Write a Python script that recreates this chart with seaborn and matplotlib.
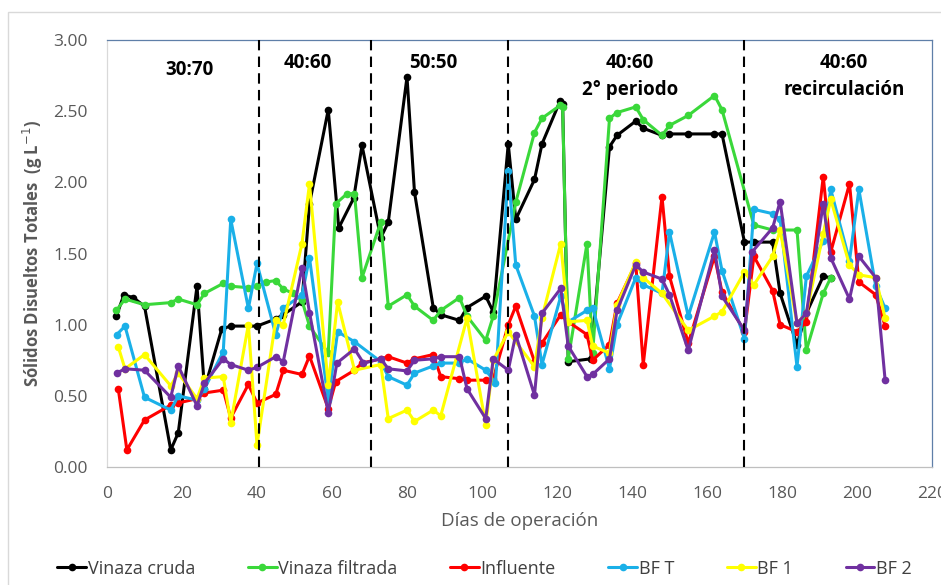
import matplotlib
matplotlib.use("Agg")
import matplotlib.pyplot as plt
from matplotlib.patches import Rectangle
import seaborn as sns

# días de muestreo y sólidos disueltos totales (g/L) por serie
cruda_dias = [2.5, 4.5, 7, 10, 17, 19, 24, 26, 30.6, 33, 40, 45, 47, 52, 54, 59, 61.8, 65.8, 68,
              73, 75, 80, 82, 87, 89, 94, 96, 101, 103, 107, 109, 114, 116, 120.8, 121.5, 123, 129,
              134, 136, 141, 143, 148, 150, 155, 162, 164, 170, 172.5, 177.5, 179.5, 184, 186.5, 191, 193]
cruda_sdt = [1.06, 1.21, 1.19, 1.13, 0.12, 0.24, 1.27, 0.55, 0.97, 0.99, 0.99, 1.04, 1.07, 1.16, 1.85, 2.51, 1.68, 1.89, 2.26,
             1.61, 1.72, 2.74, 1.93, 1.12, 1.07, 1.03, 1.12, 1.20, 1.09, 2.27, 1.74, 2.02, 2.27, 2.57, 2.55, 0.74, 0.76,
             2.25, 2.33, 2.43, 2.38, 2.33, 2.34, 2.34, 2.34, 2.34, 1.58, 1.58, 1.58, 1.22, 0.86, 1.08, 1.34, 1.33]

filtrada_dias = [2.5, 4.8, 10, 17, 19, 24, 26, 31, 33, 37.7, 40, 42.5, 45, 47, 49.7, 52, 54, 59, 61, 64, 66, 68,
                 73, 75, 80, 82, 87, 89, 94, 96, 101, 103, 109, 114, 116, 120.8, 121.5, 123, 128, 129.5,
                 134, 136, 141, 143, 148, 150, 155, 162, 164, 172.5, 177.5, 184, 186.5, 191, 193]
filtrada_sdt = [1.10, 1.18, 1.14, 1.155, 1.18, 1.14, 1.22, 1.29, 1.27, 1.26, 1.27, 1.30, 1.31, 1.25, 1.22, 1.17, 0.99, 0.80, 1.85, 1.92, 1.92, 1.33,
                1.72, 1.13, 1.21, 1.13, 1.03, 1.10, 1.19, 1.06, 0.89, 1.06, 1.86, 2.35, 2.45, 2.54, 2.53, 0.76, 1.57, 0.80,
                2.45, 2.49, 2.53, 2.44, 2.33, 2.40, 2.47, 2.61, 2.51, 1.70, 1.665, 1.665, 0.82, 1.22, 1.33]

influente_dias = [3, 5.3, 10, 17, 19, 24, 26, 31, 33, 37.7, 40, 45, 47, 52, 54, 59, 61, 66, 68, 73, 75, 80, 82, 87, 89,
                  94, 96, 101, 103, 107, 109, 114, 116, 121, 123, 128, 129.5, 134, 136, 141, 143, 148, 150, 155,
                  162, 164, 170, 172.5, 177.5, 179.5, 184, 186.5, 191, 193, 198, 200.5, 205, 207.5]
influente_sdt = [0.55, 0.12, 0.33, 0.435, 0.45, 0.48, 0.52, 0.54, 0.345, 0.58, 0.45, 0.51, 0.68, 0.65, 0.78, 0.41, 0.60, 0.68, 0.73, 0.76, 0.775, 0.73, 0.76, 0.79, 0.635,
                 0.62, 0.61, 0.61, 0.62, 1.0, 1.13, 0.74, 0.87, 1.07, 1.02, 0.93, 0.75, 0.86, 1.15, 1.43, 0.72, 1.90, 1.34, 0.87,
                 1.48, 1.23, 0.95, 1.48, 1.24, 1.0, 0.95, 1.02, 2.04, 1.51, 1.99, 1.30, 1.21, 0.99]

bft_dias = [2.6, 4.8, 10, 17, 19, 24, 26, 31, 33, 37.7, 40, 45, 47, 52, 54, 59, 61.5, 66, 73, 75, 80, 82, 87, 89,
            94, 96, 101, 103.6, 107, 109, 114, 116, 121, 123, 128, 129.5, 134, 136, 141, 143, 148, 150, 155,
            162, 164, 170, 172.5, 177.5, 179.5, 184, 186.5, 191, 193, 198, 200.5, 205, 207.5]
bft_sdt = [0.93, 0.99, 0.49, 0.40, 0.50, 0.47, 0.55, 0.81, 1.74, 1.115, 1.43, 0.93, 1.115, 1.21, 1.47, 0.47, 0.95, 0.88, 0.74, 0.635, 0.575, 0.66, 0.71, 0.73,
           0.73, 0.76, 0.68, 0.59, 2.08, 1.42, 1.06, 0.72, 1.20, 1.02, 1.10, 1.12, 0.69, 1.00, 1.33, 1.28, 1.22, 1.65, 1.06,
           1.65, 1.38, 0.90, 1.81, 1.78, 1.74, 0.705, 1.34, 1.59, 1.95, 1.45, 1.95, 1.27, 1.115]

bf1_dias = [3, 4.8, 10, 17, 19, 24, 26, 31, 33, 37.7, 40, 45, 47, 52, 54, 59, 61.5, 66, 73, 75, 80, 82, 87, 89,
            96, 101, 103, 107, 114, 116, 121, 123, 128, 129.5, 134, 136, 141, 143, 148, 155, 162, 164,
            170, 172.5, 177.5, 179.5, 184, 186.5, 191, 193, 198, 200.5, 205, 207.5]
bf1_sdt = [0.845, 0.69, 0.79, 0.57, 0.66, 0.48, 0.625, 0.635, 0.31, 1.0, 0.155, 1.03, 1.0, 1.57, 1.99, 0.575, 1.16, 0.68, 0.72, 0.34, 0.40, 0.32, 0.40, 0.36,
           1.045, 0.295, 0.75, 0.95, 0.705, 1.05, 1.57, 1.02, 1.03, 0.85, 0.80, 1.14, 1.44, 1.33, 1.22, 0.96, 1.06, 1.09,
           1.37, 1.28, 1.48, 1.665, 1.01, 1.08, 1.64, 1.88, 1.42, 1.35, 1.33, 1.045]

bf2_dias = [2.6, 4.8, 10, 17, 19, 24, 26, 31, 33, 37.7, 40, 45, 47, 52, 54, 59, 61.3, 66, 68.4, 73, 75, 80, 82, 87, 89,
            94, 96, 101, 103, 107, 109, 114, 116, 121, 123, 128, 129.5, 134, 136, 141, 143, 148, 150, 155,
            162, 164, 170, 172, 177.5, 179.5, 184, 186.5, 191, 193, 198, 200.5, 205, 207.5]
bf2_sdt = [0.66, 0.69, 0.68, 0.49, 0.71, 0.43, 0.59, 0.76, 0.72, 0.68, 0.70, 0.775, 0.74, 1.40, 1.085, 0.38, 0.73, 0.83, 0.73, 0.76, 0.69, 0.675, 0.75, 0.76, 0.775,
           0.775, 0.55, 0.34, 0.76, 0.68, 0.93, 0.505, 1.08, 1.255, 0.85, 0.635, 0.65, 0.76, 1.10, 1.42, 1.37, 1.32, 1.21, 0.82,
           1.525, 1.20, 0.96, 1.51, 1.68, 1.865, 1.01, 1.08, 1.85, 1.47, 1.18, 1.48, 1.33, 0.61]

# cambios de periodo y etiquetas
cortes = [40.5, 70.5, 107, 170]
periodos = ["30:70", "40:60", "50:50", "40:60\n2° periodo", "40:60\nrecirculación"]
periodos_x = [22, 53.5, 87, 139.5, 196.5]
periodos_y = [2.86, 2.91, 2.91, 2.91, 2.91]

series = [
    ("Vinaza cruda", cruda_dias, cruda_sdt, "#000000"),
    ("Vinaza filtrada", filtrada_dias, filtrada_sdt, "#3ad83a"),
    ("Influente", influente_dias, influente_sdt, "#ff0000"),
    ("BF T", bft_dias, bft_sdt, "#1ab0e8"),
    ("BF 1", bf1_dias, bf1_sdt, "#ffff00"),
    ("BF 2", bf2_dias, bf2_sdt, "#7030a0"),
]

sns.set_style("white")
plt.rcParams["font.family"] = ["Open Sans", "DejaVu Sans"]

fig = plt.figure(figsize=(9.41, 5.85), dpi=100)
ax = fig.add_axes([107 / 941, 1 - 467 / 585, 825 / 941, 427 / 585])

for nombre, dias, sdt, color in series:
    sns.lineplot(x=dias, y=sdt, ax=ax, color=color, label=nombre, marker="o",
                 markersize=5.5, markeredgewidth=0, linewidth=2.2, sort=False)

for c in cortes:
    ax.axvline(c, color="black", linestyle=(0, (5, 3)), linewidth=1.5, zorder=5)

for etiqueta, px, py in zip(periodos, periodos_x, periodos_y):
    ax.text(px, py, etiqueta, ha="center", va="top", fontsize=13.5,
            fontweight="bold", color="black", linespacing=1.45)

ax.set_xlim(0, 220)
ax.set_ylim(0, 3)
ax.set_xticks(range(0, 221, 20))
ax.set_yticks([0, 0.5, 1, 1.5, 2, 2.5, 3])
ax.set_yticklabels([f"{v:.2f}" for v in [0, 0.5, 1, 1.5, 2, 2.5, 3]])
ax.tick_params(axis="both", length=0, labelsize=12.5, labelcolor="#595959")
ax.tick_params(axis="x", pad=14)
ax.tick_params(axis="y", pad=14)
ax.set_xlabel("Días de operación", fontsize=13.5, color="#595959", labelpad=7)
ax.set_ylabel("Sólidos Disueltos Totales  (g L$^{-1}$)", fontsize=12, fontweight="bold",
              color="#595959", labelpad=6)

ax.spines["left"].set_color("#d9d9d9")
ax.spines["bottom"].set_color("#bfbfbf")
ax.spines["top"].set_color("#5f7fa8")
ax.spines["right"].set_color("#5f7fa8")
for s in ax.spines.values():
    s.set_linewidth(0.9)

handles, labels = ax.get_legend_handles_labels()
ax.get_legend().remove()
fig.legend(handles, labels, loc="center", bbox_to_anchor=(0.515, 0.028), ncol=6,
           frameon=False, fontsize=13, handlelength=1.6, handletextpad=0.1,
           columnspacing=2.9, labelcolor="#404040")

fig.add_artist(Rectangle((8 / 941, -0.1), 1.2, 1.1 - 12 / 585, transform=fig.transFigure,
                         fill=False, edgecolor="#d9d9d9", linewidth=1))

fig.savefig("out.png", dpi=100)
